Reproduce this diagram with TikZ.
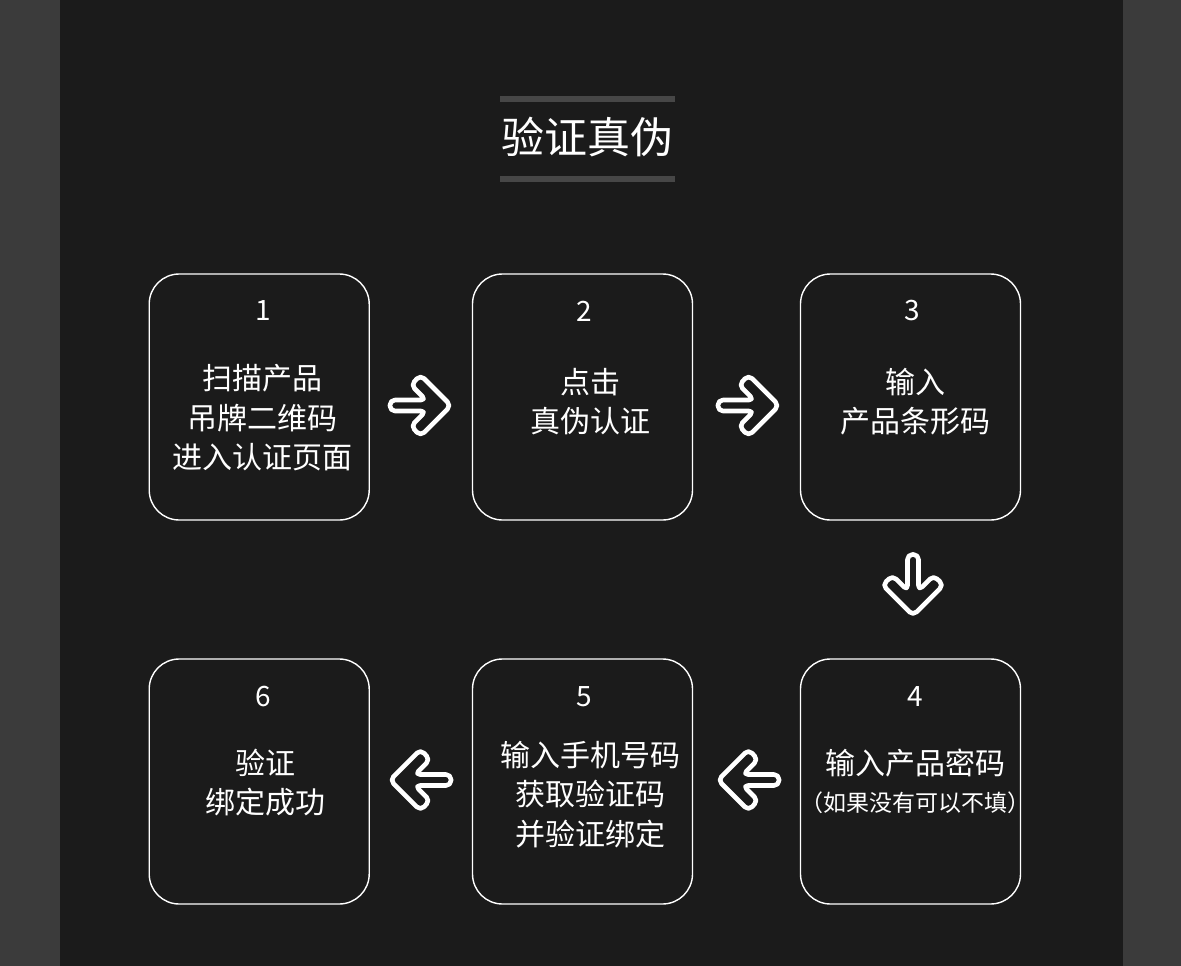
\documentclass[tikz,border=0pt]{standalone}
\usepackage{fontspec}
\newfontfamily\cjk{Noto Sans CJK SC}
\definecolor{bgside}{HTML}{3B3B3B}
\definecolor{bgmain}{HTML}{1B1B1B}
\definecolor{barc}{HTML}{474747}
\begin{document}
\begin{tikzpicture}[x=1pt,y=-1pt,
  box/.style={draw=white, line width=1.4pt, rounded corners=30pt, minimum width=220pt, minimum height=246pt, inner sep=0pt},
  num/.style={text=white, inner sep=0pt, font=\cjk\fontsize{28pt}{32pt}\selectfont},
  txt/.style={text=white, inner sep=0pt, align=center, font=\cjk\fontsize{30pt}{39.5pt}\selectfont},
  smalltxt/.style={text=white, inner sep=0pt, align=center, font=\cjk\fontsize{23pt}{28pt}\selectfont},
  arrowicon/.pic={\draw[white, line width=4.6pt, rounded corners=5pt, line join=round]
    (-30.5,-5.5) -- (5.5,-5.5) -- (-9.5,-20.5) -- (0,-30.5) -- (30.5,0) -- (0,30.5) -- (-9.5,20.5) -- (5.5,5.5) -- (-30.5,5.5) -- cycle;}
]
\useasboundingbox (0,0) rectangle (1181,966);
\fill[bgside] (0,0) rectangle (1181,966);
\fill[bgmain] (60,0) rectangle (1123,966);

% title
\fill[barc] (500,96) rectangle (675,102);
\fill[barc] (500,176) rectangle (675,182);
\node[text=white, inner sep=0pt, font=\cjk\fontsize{43pt}{48pt}\selectfont] (title) at (587,137) {验证真伪};

% boxes
\node[box] (b1) at (259.2,397) {};
\node[box] (b2) at (582.5,397) {};
\node[box] (b3) at (910.5,397) {};
\node[box, minimum height=245pt] (b4) at (910.5,781.5) {};
\node[box, minimum height=245pt] (b5) at (582.5,781.5) {};
\node[box, minimum height=245pt] (b6) at (259.2,781.5) {};

% numbers
\node[num] (n1) at (263,311) {1};
\node[num] (n2) at (584,311) {2};
\node[num] (n3) at (912,311) {3};
\node[num] (n4) at (915,697) {4};
\node[num] (n5) at (584,697) {5};
\node[num] (n6) at (263,697) {6};

% texts
\node[txt] (t1) at (262,418) {扫描产品\\吊牌二维码\\进入认证页面};
\node[txt] (t2) at (590,401.5) {点击\\真伪认证};
\node[txt] (t3) at (915,401.5) {输入\\产品条形码};
\node[txt] (t4a) at (915.5,763) {输入产品密码};
\node[smalltxt] (t4b) at (915.5,803) {（如果没有可以不填）};
\node[txt] (t5) at (590,794.5) {输入手机号码\\获取验证码\\并验证绑定};
\node[txt] (t6) at (265,782.5) {验证\\绑定成功};

% arrows
\coordinate (a12) at (420.5,405.5);
\coordinate (a23) at (748.5,405.5);
\coordinate (a34) at (913,585);
\coordinate (a45) at (748.5,780);
\coordinate (a56) at (420.5,780);
\pic at (a12) {arrowicon};
\pic at (a23) {arrowicon};
\pic[rotate=-90] at (a34) {arrowicon};
\pic[rotate=180] at (a45) {arrowicon};
\pic[rotate=180] at (a56) {arrowicon};
\end{tikzpicture}
\end{document}
